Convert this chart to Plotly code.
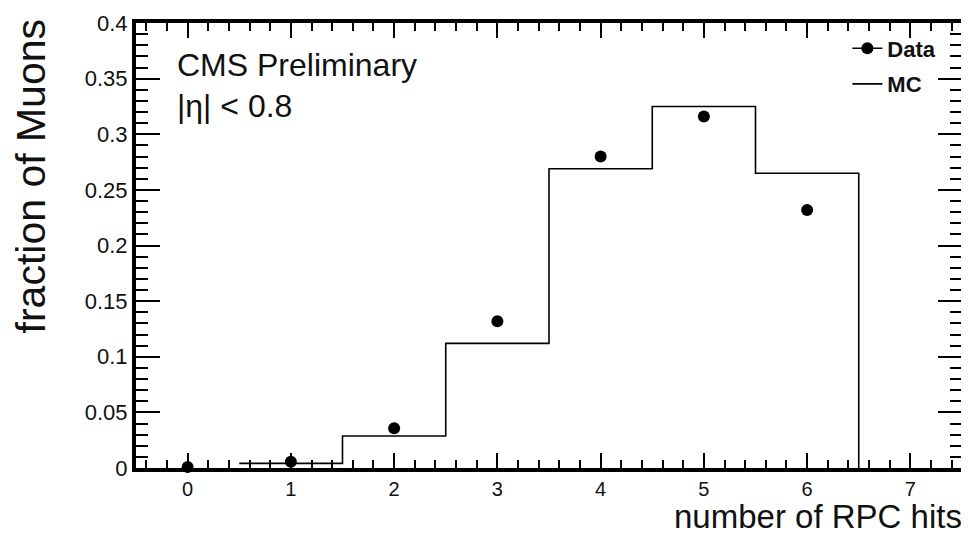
import plotly.graph_objects as go

# Data
bin_centers = [0, 1, 2, 3, 4, 5, 6, 7]
data_vals = [0.001, 0.0057, 0.0357, 0.132, 0.280, 0.316, 0.232]
mc_vals = [0.0, 0.0042, 0.0288, 0.112, 0.269, 0.325, 0.265, 0.0]
x_tick_vals = [0, 1, 2, 3, 4, 5, 6, 7]
y_tick_vals = [0, 0.05, 0.1, 0.15, 0.2, 0.25, 0.3, 0.35, 0.4]
y_tick_text = ["0", "0.05", "0.1", "0.15", "0.2", "0.25", "0.3", "0.35", "0.4"]

FONT = "Liberation Sans, Arial, Helvetica, sans-serif"

# MC histogram outline (ROOT-style step) over the filled bins only
filled = [i for i, v in enumerate(mc_vals) if v > 0]
first, last = filled[0], filled[-1]
edges_x = [bin_centers[i] - 0.5 for i in range(first, last + 1)] + [bin_centers[last] + 0.5] * 2
edges_y = [mc_vals[i] for i in range(first, last + 1)] + [mc_vals[last], 0.0]

fig = go.Figure()

fig.add_trace(go.Scatter(
    x=edges_x, y=edges_y, mode="lines", line=dict(shape="hv", color="black", width=1.6),
    name="MC", showlegend=False, hoverinfo="skip"))

fig.add_trace(go.Scatter(
    x=bin_centers[:len(data_vals)], y=data_vals, mode="markers", cliponaxis=False,
    marker=dict(symbol="circle", size=12, color="black"),
    name="Data", showlegend=False))

# legend entries
fig.add_trace(go.Scatter(
    x=[None], y=[None], mode="lines+markers",
    marker=dict(symbol="circle", size=12, color="black"),
    line=dict(color="black", width=1.6), name="<b>Data</b>", legendgroup="a"))
fig.add_trace(go.Scatter(
    x=[None], y=[None], mode="lines",
    line=dict(color="black", width=1.6), name="<b>MC</b>", legendgroup="b"))

# plot area in page pixels: x 135.6..963.6, y 22.7..468
def px(xp):
    return (xp - 135.6) / 828.0

def py(yp):
    return (468.0 - yp) / 445.3

fig.add_annotation(text="CMS Preliminary", xref="paper", yref="paper",
                   x=px(175), y=py(65), xanchor="left", yanchor="middle",
                   showarrow=False, font=dict(family=FONT, size=32, color="#111"))
fig.add_annotation(text="|η| < 0.8", xref="paper", yref="paper",
                   x=px(175), y=py(106), xanchor="left", yanchor="middle",
                   showarrow=False, font=dict(family=FONT, size=32, color="#111"))

# axis titles, ROOT style (right/top aligned)
fig.add_annotation(text="fraction of Muons", xref="paper", yref="paper",
                   x=px(30), y=py(16), xanchor="center", yanchor="top",
                   textangle=-90, showarrow=False, font=dict(family=FONT, size=41, color="#111"))
fig.add_annotation(text="number of RPC hits", xref="paper", yref="paper",
                   x=px(966), y=py(517), xanchor="right", yanchor="middle",
                   showarrow=False, font=dict(family=FONT, size=33, color="#111"))

# the page body has an 8px margin, so the figure is 8px smaller than the window
fig.update_layout(
    width=961, height=526,
    margin=dict(l=128, r=3, t=14, b=66),
    paper_bgcolor="white", plot_bgcolor="white",
    font=dict(family=FONT, color="#111"),
    legend=dict(x=0.975, y=0.99, xanchor="right", yanchor="top",
                bgcolor="rgba(0,0,0,0)", font=dict(family=FONT, size=22, color="#111"),
                tracegroupgap=4, itemwidth=30),
    showlegend=True,
)

fig.update_xaxes(
    range=[-0.5, 7.5], tickvals=x_tick_vals, ticks="inside", ticklen=15, tickwidth=2,
    tickcolor="black", showline=True, linewidth=4, linecolor="black", mirror="allticks",
    showgrid=False, zeroline=False, tickfont=dict(family=FONT, size=20, color="#111"),
    minor=dict(dtick=0.2, tick0=0, ticks="inside", ticklen=8, tickwidth=1.5, tickcolor="black", showgrid=False),
)
fig.update_yaxes(
    range=[0, 0.4], tickvals=y_tick_vals, ticktext=y_tick_text, ticks="inside", ticklen=24, tickwidth=2,
    tickcolor="black", showline=True, linewidth=4, linecolor="black", mirror="allticks",
    showgrid=False, zeroline=False, tickfont=dict(family=FONT, size=22, color="#111"),
    minor=dict(dtick=0.01, tick0=0, ticks="inside", ticklen=12, tickwidth=1.5, tickcolor="black", showgrid=False),
)

fig.write_html("out.html")
